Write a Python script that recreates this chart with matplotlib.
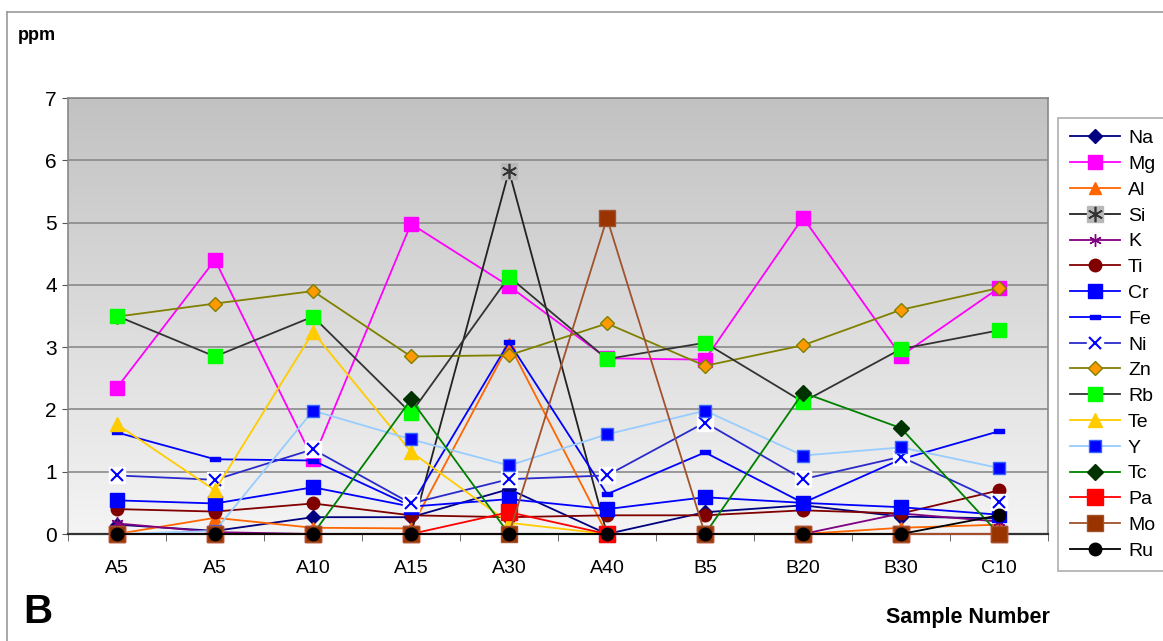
import numpy as np
import matplotlib
matplotlib.use("Agg")
import matplotlib.pyplot as plt
from matplotlib.path import Path
from matplotlib.legend_handler import HandlerTuple
from matplotlib.lines import Line2D
from matplotlib.colors import LinearSegmentedColormap

plt.rcParams['font.family'] = ['Liberation Sans', 'DejaVu Sans']

samples = ["A5", "A5", "A10", "A15", "A30", "A40", "B5", "B20", "B30", "C10"]

Na = [0.15, 0.05, 0.27, 0.27, 0.72, 0.00, 0.35, 0.46, 0.28, 0.25]
Mg = [2.35, 4.40, 1.20, 4.98, 3.98, 2.82, 2.80, 5.08, 2.86, 3.95]
Al = [0.00, 0.26, 0.10, 0.09, 3.05, 0.00, 0.00, 0.00, 0.10, 0.15]
Si = [0.00, 0.00, 0.00, 0.00, 5.83, 0.00, 0.00, 0.00, 0.00, 0.00]
K = [0.17, 0.03, 0.00, 0.00, 0.00, 0.00, 0.00, 0.00, 0.33, 0.20]
Ti = [0.40, 0.36, 0.49, 0.30, 0.27, 0.30, 0.30, 0.38, 0.33, 0.70]
Cr = [0.54, 0.49, 0.75, 0.44, 0.56, 0.40, 0.59, 0.50, 0.43, 0.31]
Fe = [1.63, 1.20, 1.18, 0.45, 3.08, 0.64, 1.31, 0.50, 1.20, 1.65]
Ni = [0.94, 0.87, 1.36, 0.49, 0.88, 0.94, 1.79, 0.88, 1.24, 0.51]
Zn = [3.49, 3.70, 3.90, 2.85, 2.87, 3.38, 2.70, 3.03, 3.60, 3.95]
Rb = [3.50, 2.85, 3.49, 1.94, 4.13, 2.81, 3.07, 2.12, 2.97, 3.27]
Te = [1.76, 0.70, 3.24, 1.32, 0.18, 0.00, 0.00, 0.00, 0.00, 0.00]
Y = [0.00, 0.05, 1.98, 1.52, 1.10, 1.60, 1.98, 1.26, 1.39, 1.06]
Tc = [0.00, 0.00, 0.00, 2.16, 0.00, 0.00, 0.00, 2.27, 1.70, 0.00]
Pa = [0.00, 0.00, 0.00, 0.00, 0.35, 0.00, 0.00, 0.00, 0.00, 0.00]
Mo = [0.00, 0.00, 0.00, 0.00, 0.00, 5.07, 0.00, 0.00, 0.00, 0.00]
Ru = [0.00, 0.00, 0.00, 0.00, 0.00, 0.00, 0.00, 0.00, 0.00, 0.30]

W, H = 1163, 641
fig = plt.figure(figsize=(W / 100, H / 100), dpi=100)
fig.patch.set_facecolor("white")

L, R, T, B = 68, 1048, 98, 534
ax = fig.add_axes([L / W, 1 - B / H, (R - L) / W, (B - T) / H])
ax.set_xlim(-0.5, 9.5)
ax.set_ylim(0, 7)

# gradient background
grad = np.linspace(0, 1, 256).reshape(-1, 1)
cmap = LinearSegmentedColormap.from_list("g", ["#f4f4f4", "#c2c2c2"])
ax.imshow(grad, extent=(-0.5, 9.5, 0, 7), origin="lower", cmap=cmap,
          aspect="auto", zorder=0)

for yv in range(1, 8):
    ax.axhline(yv, color="#8a8a8a", lw=1.2, zorder=1)

x = np.arange(len(samples))
fe_marker = Path([(-1, -0.45), (1, -0.45), (1, 0.45), (-1, 0.45), (-1, -0.45)],
                 [Path.MOVETO, Path.LINETO, Path.LINETO, Path.LINETO, Path.CLOSEPOLY])
star6 = (6, 2, 0)

handles = []
labels = []
lw = 1.3

def series(vals, label, color, marker, ms, mfc, mec=None, extra=None):
    ln, = ax.plot(x, vals, color=color, lw=lw, marker=marker, ms=ms,
                  mfc=mfc, mec=mec if mec else mfc, mew=1.0, zorder=3,
                  clip_on=False)
    h = ln
    if extra is not None:
        ln2, = ax.plot(x, vals, ls="none", zorder=3, clip_on=False, **extra)
        h = (ln, ln2)
    handles.append(h)
    labels.append(label)

series(Na, "Na", "#000080", "D", 7, "#000080")
series(Mg, "Mg", "#ff00ff", "s", 10, "#ff00ff")
series(Al, "Al", "#ff6600", "^", 9, "#ff6600")
series(Si, "Si", "#222222", "s", 12, "#b8b8b8",
       extra=dict(marker=star6, ms=11, mec="#333333", mew=1.2))
series(K, "K", "#800080", star6, 9, "#800080")
series(Ti, "Ti", "#800000", "o", 9, "#800000")
series(Cr, "Cr", "#0000ff", "s", 9.5, "#0000ff")
series(Fe, "Fe", "#0000ff", fe_marker, 7, "#0000ff")
series(Ni, "Ni", "#2a2acc", "s", 12, "white", "white",
       extra=dict(marker="x", ms=9, mec="#0000ff", mew=1.5))
series(Zn, "Zn", "#808000", "D", 7.5, "#ff9900", "#808000")
series(Rb, "Rb", "#333333", "s", 10, "#00ff00")
series(Te, "Te", "#ffcc00", "^", 10, "#ffcc00")
series(Y, "Y", "#99ccff", "s", 8, "#0000ff", "#3366ff")
series(Tc, "Tc", "#008000", "D", 8.5, "#003300")
series(Pa, "Pa", "#ff0000", "s", 11.5, "#ff0000")
series(Mo, "Mo", "#a0522d", "s", 12, "#993300", "#a0522d")
series(Ru, "Ru", "#000000", "o", 9, "#000000")

# axes styling
ax.set_xticks(x)
ax.set_xticklabels(samples, fontsize=14)
ax.set_xticks(np.arange(-0.5, 10, 1), minor=True)
ax.tick_params(axis="x", which="major", length=0, pad=19)
ax.tick_params(axis="x", which="minor", length=5, color="#555555")
ax.set_yticks(range(0, 8))
ax.tick_params(axis="y", length=4, color="#555555", labelsize=15, pad=4)
for s in ["top", "right", "left"]:
    ax.spines[s].set_color("#888888")
    ax.spines[s].set_linewidth(1.2)
ax.spines["bottom"].set_color("#333333")
ax.spines["bottom"].set_linewidth(1.6)

# figure texts
fig.text(18 / W, 1 - 36 / H, "ppm", fontsize=13, fontweight="bold", va="center", ha="left")
fig.text(23 / W, 1 - 612 / H, "B", fontsize=29, fontweight="bold", va="center", ha="left")
fig.text(1050 / W, 1 - 617 / H, "Sample Number", fontsize=15.5, fontweight="bold",
         va="center", ha="right")

# outer frame
fig.add_artist(Line2D([7 / W, 7 / W], [0, 1 - 12 / H], transform=fig.transFigure,
                      color="#999999", lw=1.2))
fig.add_artist(Line2D([7 / W, 1], [1 - 12 / H, 1 - 12 / H], transform=fig.transFigure,
                      color="#999999", lw=1.2))

leg = fig.legend(handles, labels, loc="upper left",
                 bbox_to_anchor=(1058 / W, 1 - 118 / H),
                 fontsize=14, frameon=True, fancybox=False, edgecolor="#999999",
                 handlelength=2.6, handletextpad=0.4, labelspacing=0.42,
                 borderpad=0.6, borderaxespad=0,
                 handler_map={tuple: HandlerTuple(ndivide=1)}, markerscale=1.0)
leg.get_frame().set_linewidth(1.2)

fig.savefig("out.png", dpi=100, facecolor="white")
